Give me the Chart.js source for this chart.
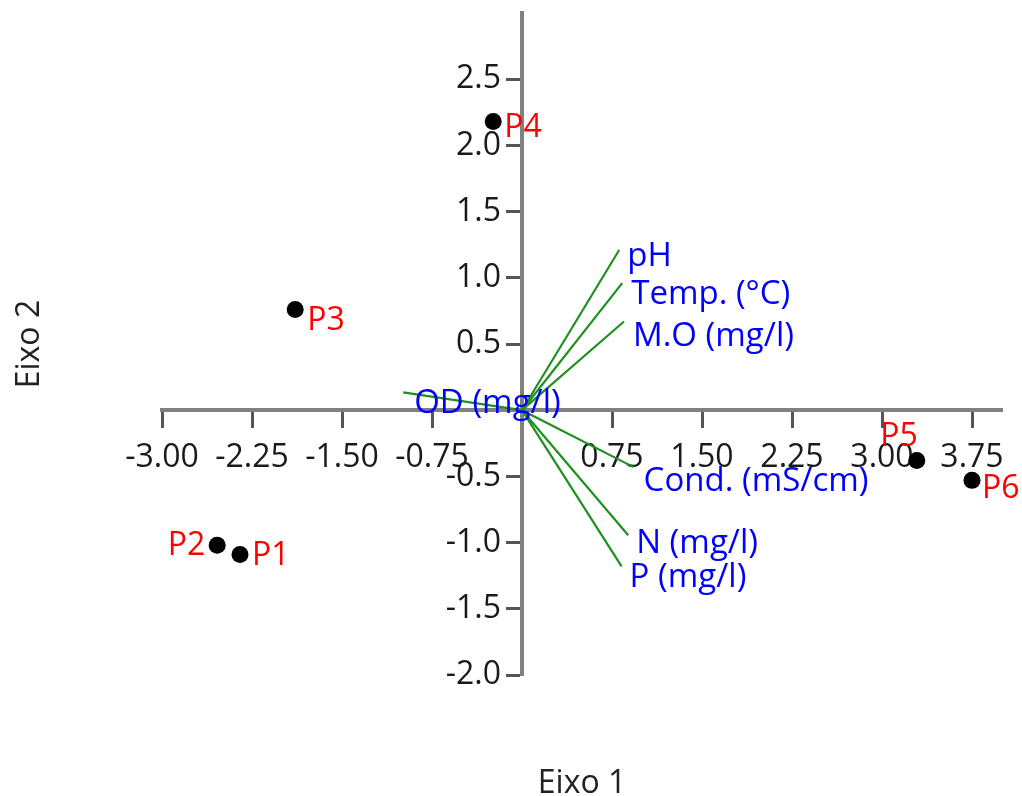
<!DOCTYPE html>
<html>
<head>
<meta charset="utf-8">
<script src="https://cdn.jsdelivr.net/npm/chart.js@4/dist/chart.umd.min.js"></script>
<style>
  html, body { margin: 0; padding: 0; background: #fff; }
  #wrap { width: 1022px; height: 796px; position: relative; }
</style>
</head>
<body>
<div id="wrap"><canvas id="grafico"></canvas></div>
<script>
// pontos (escores)
const pontos = ['P1', 'P2', 'P3', 'P4', 'P5', 'P6'];
const eixo1 = [-2.35, -2.54, -1.89, -0.24, 3.29, 3.75];
const eixo2 = [-1.09, -1.02, 0.76, 2.18, -0.38, -0.53];

// variaveis (vetores)
const variaveis = ['pH', 'Temp. (°C)', 'M.O (mg/l)', 'OD (mg/l)', 'Cond. (mS/cm)', 'N (mg/l)', 'P (mg/l)'];
const varEixo1 = [0.81, 0.835, 0.85, -0.99, 0.93, 0.885, 0.83];
const varEixo2 = [1.21, 0.96, 0.67, 0.135, -0.43, -0.945, -1.18];

// marcas dos eixos
const ticksX = [-3.00, -2.25, -1.50, -0.75, 0.75, 1.50, 2.25, 3.00, 3.75];
const ticksY = [-2.0, -1.5, -1.0, -0.5, 0.5, 1.0, 1.5, 2.0, 2.5];

// deslocamento dos rotulos dos pontos (px)
const posRotulo = [
  { align: 'left', dx: 12, dy: 1 },
  { align: 'right', dx: -12, dy: 1 },
  { align: 'left', dx: 12, dy: 11 },
  { align: 'left', dx: 11, dy: 6 },
  { align: 'right', dx: 1, dy: -24 },
  { align: 'left', dx: 10, dy: 9 }
];

// deslocamento dos rotulos dos vetores (px)
const posVetor = [
  { dx: 8, dy: 7 },
  { dx: 9, dy: 11 },
  { dx: 9, dy: 15 },
  { dx: 11, dy: 11 },
  { dx: 10, dy: 14 },
  { dx: 8, dy: 8 },
  { dx: 8, dy: 11 }
];

const FONTE = '"Open Sans", "DejaVu Sans", sans-serif';

// leva o eixo Y para x = 0 (cruzamento na origem)
const eixoNaOrigem = {
  id: 'eixoNaOrigem',
  afterLayout(chart) {
    const ys = chart.scales.y;
    ys.left = 0;
    ys.right = chart.scales.x.getPixelForValue(0);
  }
};

// eixos sem ocupar espaco no layout
function semEspaco(s) {
  if (s.isHorizontal()) s.height = 0; else s.width = 0;
  s.paddingTop = 0; s.paddingBottom = 0; s.paddingLeft = 0; s.paddingRight = 0;
}

const rotulos = {
  id: 'rotulos',
  afterDatasetsDraw(chart) {
    const { ctx, scales: { x, y } } = chart;
    ctx.save();
    ctx.font = '33px ' + FONTE;
    ctx.textBaseline = 'middle';

    ctx.fillStyle = '#0000ff';
    ctx.textAlign = 'left';
    variaveis.forEach((nome, i) => {
      const p = posVetor[i];
      ctx.fillText(nome, x.getPixelForValue(varEixo1[i]) + p.dx, y.getPixelForValue(varEixo2[i]) + p.dy);
    });

    ctx.font = '32px ' + FONTE;
    ctx.fillStyle = '#ff0000';
    pontos.forEach((nome, i) => {
      const p = posRotulo[i];
      ctx.textAlign = p.align;
      ctx.fillText(nome, x.getPixelForValue(eixo1[i]) + p.dx, y.getPixelForValue(eixo2[i]) + p.dy);
    });

    // titulos dos eixos
    const area = chart.chartArea;
    ctx.fillStyle = '#222';
    ctx.font = '32px ' + FONTE;
    ctx.textAlign = 'center';
    ctx.textBaseline = 'alphabetic';
    ctx.fillText('Eixo 1', (area.left + area.right) / 2, 793);
    ctx.translate(39, (area.top + area.bottom) / 2);
    ctx.rotate(-Math.PI / 2);
    ctx.fillText('Eixo 2', 0, 0);
    ctx.restore();
  }
};

const datasets = variaveis.map((nome, i) => ({
  type: 'line',
  label: nome,
  data: [{ x: 0, y: 0 }, { x: varEixo1[i], y: varEixo2[i] }],
  borderColor: '#1f8f1f',
  borderWidth: 2.2,
  pointRadius: 0,
  showLine: true,
  order: 2
}));

datasets.push({
  type: 'scatter',
  label: 'Pontos',
  data: pontos.map((p, i) => ({ x: eixo1[i], y: eixo2[i] })),
  backgroundColor: '#000',
  borderWidth: 0,
  pointRadius: 8.5,
  order: 1
});

const eixoComum = {
  grid: { display: true, drawOnChartArea: false, drawTicks: true, tickLength: 16, tickWidth: 3, tickColor: '#555' },
  border: { display: true, color: '#808080', width: 4 },
};

new Chart(document.getElementById('grafico'), {
  type: 'scatter',
  data: { datasets },
  options: {
    responsive: true,
    maintainAspectRatio: false,
    animation: false,
    layout: { padding: { left: 162, right: 20, top: 13, bottom: 121 } },
    plugins: { legend: { display: false }, tooltip: { enabled: false } },
    scales: {
      x: {
        ...eixoComum,
        type: 'linear',
        min: -3, max: 4,
        position: { y: 0 },
        afterBuildTicks: s => { s.ticks = ticksX.map(v => ({ value: v })); },
        afterFit: semEspaco,
        ticks: { padding: 12, color: '#1a1a1a', font: { family: FONTE, size: 32 }, maxRotation: 0, autoSkip: false, callback: v => v.toFixed(2) }
      },
      y: {
        ...eixoComum,
        type: 'linear',
        min: -2, max: 3,
        position: 'left',
        afterBuildTicks: s => { s.ticks = ticksY.map(v => ({ value: v })); },
        afterFit: semEspaco,
        ticks: { padding: 5, color: '#1a1a1a', font: { family: FONTE, size: 32 }, autoSkip: false, callback: v => v.toFixed(1) }
      }
    }
  },
  plugins: [eixoNaOrigem, rotulos]
});
</script>
</body>
</html>
